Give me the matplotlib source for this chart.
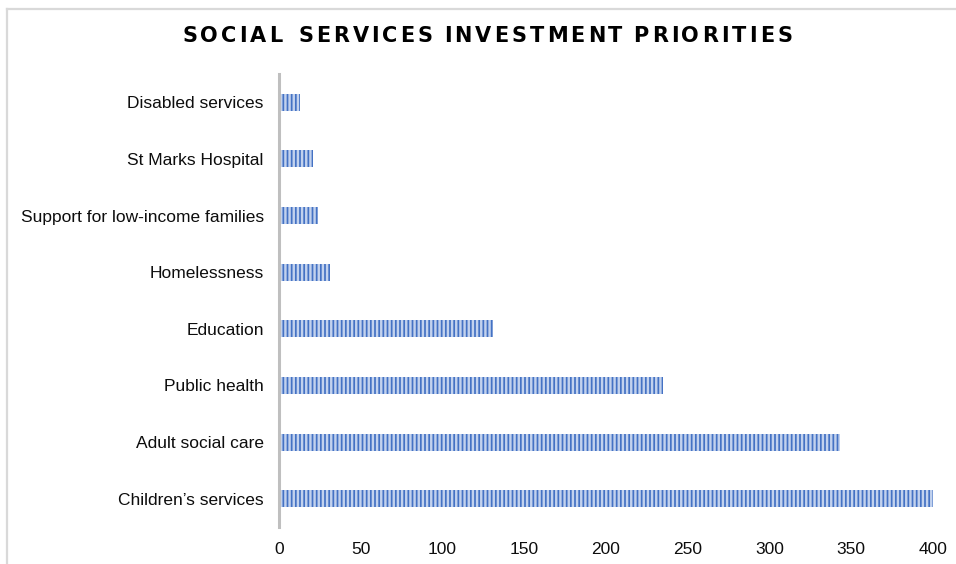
import matplotlib
matplotlib.use("Agg")
import matplotlib.pyplot as plt
from matplotlib.lines import Line2D

plt.rcParams["font.family"] = ["Liberation Sans", "DejaVu Sans"]
plt.rcParams["hatch.linewidth"] = 1.75

categories = [
    "Children\u2019s services",
    "Adult social care",
    "Public health",
    "Education",
    "Homelessness",
    "Support for low-income families",
    "St Marks Hospital",
    "Disabled services",
]
values = [400, 343, 235, 131, 31, 24, 21, 13]
x_ticks = [0, 50, 100, 150, 200, 250, 300, 350, 400]
title = "SOCIAL SERVICES INVESTMENT PRIORITIES"

W, H = 956, 564
fig = plt.figure(figsize=(W / 100, H / 100), dpi=100)
fig.patch.set_facecolor("white")

# outer chart frame (top and left edges)
fig.add_artist(Line2D([7 / W, 1], [1 - 9 / H, 1 - 9 / H], color="#D9D9D9", lw=1.6,
                      transform=fig.transFigure))
fig.add_artist(Line2D([7 / W, 7 / W], [0, 1 - 9 / H], color="#D9D9D9", lw=1.6,
                      transform=fig.transFigure))

left, right = 279 / W, 933 / W
bottom, top = 1 - 527 / H, 1 - 74 / H
ax = fig.add_axes([left, bottom, right - left, top - bottom])

y = list(range(len(categories)))
ax.barh(y, values, height=0.3, color="#4472C4", edgecolor="#C2D2EE",
        linewidth=0, hatch="||||")

ax.set_xlim(0, 400)
ax.set_ylim(-0.5, len(categories) - 0.5)
ax.set_yticks(y)
ax.set_yticklabels(categories, fontsize=12.5, color="#0D0D0D")
ax.set_xticks(x_ticks)
ax.set_xticklabels([str(t) for t in x_ticks], fontsize=12.5, color="#0D0D0D")
ax.tick_params(axis="both", length=0)
ax.tick_params(axis="y", pad=11)
ax.tick_params(axis="x", pad=10.5)
for s in ["top", "right", "bottom"]:
    ax.spines[s].set_visible(False)
ax.spines["left"].set_color("#BFBFBF")
ax.spines["left"].set_linewidth(2.2)
ax.set_facecolor("white")

# letter-spaced title, drawn glyph by glyph
fig.canvas.draw()
renderer = fig.canvas.get_renderer()
tsize = 15
tfam = ["DejaVu Sans"]
words = title.split(" ")
word_gaps = [16.0, 11.0, 11.0]
x0, x1 = 182, 792
widths = {}
for ch in set(title.replace(" ", "")):
    t = fig.text(0, 0, ch, fontsize=tsize, fontweight="bold", family=tfam)
    widths[ch] = t.get_window_extent(renderer).width
    t.remove()
ink = sum(widths[c] for w in words for c in w)
inner = sum(len(w) - 1 for w in words)
gap = (x1 - x0 - ink - sum(word_gaps)) / inner
cx = x0
ty = 1 - 36.5 / H
for wi, word in enumerate(words):
    for ci, ch in enumerate(word):
        fig.text(cx / W, ty, ch, fontsize=tsize, fontweight="bold", color="#000000",
                 family=tfam, ha="left", va="center", transform=fig.transFigure)
        cx += widths[ch] + (gap if ci < len(word) - 1 else 0)
    if wi < len(word_gaps):
        cx += word_gaps[wi]

fig.savefig("out.png", dpi=100, facecolor="white")
